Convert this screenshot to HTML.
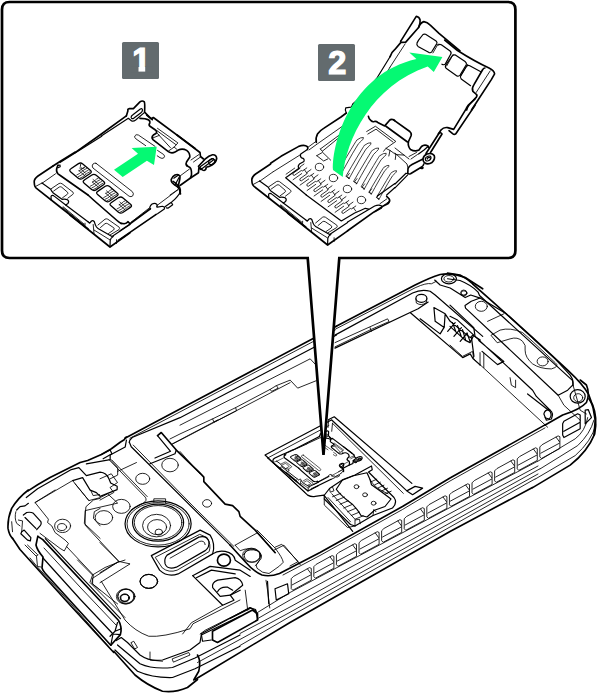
<!DOCTYPE html>
<html><head><meta charset="utf-8"><title>SIM</title>
<style>
html,body{margin:0;padding:0;background:#fff;}
body{width:600px;height:695px;overflow:hidden;font-family:"DejaVu Sans","Liberation Sans",sans-serif;}
svg{display:block}
svg path, svg line, svg polyline, svg ellipse, svg circle, svg rect.l{stroke:#000;stroke-linecap:round;stroke-linejoin:round}
</style></head><body>
<svg width="600" height="695" viewBox="0 0 600 695">
<rect x="0" y="0" width="600" height="695" fill="#fff" stroke="none"/>
<!-- phone -->
<g>
<g transform="translate(0 490) scale(0.166906)">
<path d="M170 0 Q110 45 70 110 Q45 170 48 230 Q55 270 75 290" stroke-width="9.89" fill="none" />
<path d="M330 0 L210 75 L290 175 L285 195 L310 215 L330 255 L390 300 L410 320 L385 365 L360 350 L240 260" stroke-width="5.09" fill="none" />
<path d="M130 250 L145 240 L185 285 L182 305 L165 300 L125 262 Z" stroke-width="7.19" fill="none" />
<path d="M140 150 L160 135 Q185 130 200 140 L245 190 Q250 205 240 215 L220 238 M150 165 L215 230 M100 120 L120 100 L150 95 L170 80" stroke-width="7.19" fill="none" />
<path d="M95 130 Q85 170 100 200 L120 215 M70 190 L75 250 M110 180 L135 185 L130 250" stroke-width="5.09" fill="none" />
<path d="M600 50 L560 60 L515 100 L505 200 L600 290 M600 110 L565 130 L560 170 L600 215" stroke-width="5.09" fill="none" />
<path d="M400 340 L560 510 L550 560 L600 600" stroke-width="5.09" fill="none" />
<ellipse cx="375" cy="215" rx="48" ry="40" fill="none" stroke="#000" stroke-width="5.09" transform="rotate(0 375 215)"/>
<ellipse cx="372" cy="222" rx="27" ry="21" fill="none" stroke="#000" stroke-width="5.09" transform="rotate(0 372 222)"/>
</g>
<g transform="translate(0 430) scale(0.250360)">
<path d="M504 28 L496 39 L480 49 L445 75 L405 98 L350 122 L320 130 L280 150 L200 190 Q150 218 112 243" stroke-width="6.59" fill="none" />
<path d="M405 98 L440 80 L447 95 L412 115" stroke-width="4.79" fill="none" />
<path d="M105 270 L150 235 L285 158 L315 150 L345 182 L400 168 Q425 170 435 195 L442 212 L468 225 L468 238 L400 265 L385 250 L360 240 L345 215 L330 190 L290 202" stroke-width="4.79" fill="none" />
<path d="M140 290 L290 202 L355 282 L400 270 L430 255 L470 292 L340 322 L340 380 L475 525 L370 592 L370 615 L470 695" stroke-width="3.40" fill="none" />
<path d="M355 282 L300 215 M362 240 L372 262 L398 258" stroke-width="3.40" fill="none" />
<path d="M505 40 L500 68 L440 100 L440 118 L345 135" stroke-width="4.79" fill="none" />
<path d="M436 119 L580 268 Q590 282 572 292 L524 319 M446 119 L588 266" stroke-width="3.40" fill="none" />
<path d="M440 118 L470 150 L470 180 L440 195 M470 165 L545 130" stroke-width="3.40" fill="none" />
<ellipse cx="415" cy="350" rx="35" ry="28" fill="none" stroke="#000" stroke-width="3.40" transform="rotate(0 415 350)"/>
<ellipse cx="485" cy="305" rx="35" ry="28" fill="none" stroke="#000" stroke-width="3.40" transform="rotate(0 485 305)"/>
<ellipse cx="570" cy="195" rx="28" ry="22" fill="none" stroke="#000" stroke-width="3.40" transform="rotate(0 570 195)"/>
<ellipse cx="500" cy="665" rx="35" ry="30" fill="none" stroke="#000" stroke-width="3.40" transform="rotate(0 500 665)"/>
<ellipse cx="497" cy="670" rx="17" ry="14" fill="none" stroke="#000" stroke-width="3.40" transform="rotate(0 497 670)"/>
<ellipse cx="595" cy="605" rx="35" ry="28" fill="none" stroke="#000" stroke-width="3.40" transform="rotate(0 595 605)"/>
</g>
<g transform="translate(100 460) scale(0.250360)">
<ellipse cx="232" cy="255" rx="132" ry="92" fill="none" stroke="#000" stroke-width="4.79" transform="rotate(0 232 255)"/>
<ellipse cx="232" cy="255" rx="124" ry="85" fill="none" stroke="#000" stroke-width="3.40" transform="rotate(0 232 255)"/>
<ellipse cx="232" cy="250" rx="102" ry="74" fill="none" stroke="#000" stroke-width="4.79" transform="rotate(0 232 250)"/>
<ellipse cx="232" cy="250" rx="95" ry="68" fill="none" stroke="#000" stroke-width="3.40" transform="rotate(0 232 250)"/>
<ellipse cx="226" cy="262" rx="56" ry="45" fill="none" stroke="#000" stroke-width="3.40" transform="rotate(0 226 262)"/>
<ellipse cx="228" cy="268" rx="38" ry="30" fill="none" stroke="#000" stroke-width="3.40" transform="rotate(0 228 268)"/>
<ellipse cx="235" cy="288" rx="15" ry="12" fill="none" stroke="#000" stroke-width="3.40" transform="rotate(0 235 288)"/>
<path d="M215 168 L215 155 L262 155 L262 172" stroke-width="3.40" fill="none" />
<path d="M205 382 L400 280 L440 300 Q462 335 450 375 L312 455 Q270 470 238 440 Z" stroke-width="4.79" fill="none" />
<path d="M222 388 L398 297 L428 310 Q445 338 436 366 L308 440 Q275 452 250 432 Z" stroke-width="3.40" fill="none" />
<path d="M268 380 L395 308 Q425 300 435 325 Q438 350 420 362 L305 428 Q270 440 260 415 Q255 395 268 380 Z" stroke-width="4.79" fill="none" />
<path d="M280 392 L398 325 Q418 320 420 338" stroke-width="3.40" fill="none" />
<ellipse cx="495" cy="400" rx="26" ry="24" fill="none" stroke="#000" stroke-width="6.59" transform="rotate(0 495 400)"/>
<path d="M0 75 L45 55 L70 90 L40 110 L55 130 L0 160" stroke-width="3.40" fill="none" />
<path d="M450 375 Q470 360 500 365 Q535 372 540 400 L600 440" stroke-width="4.79" fill="none" />
<path d="M0 330 L75 405 L0 450 M75 405 L120 415 L0 490" stroke-width="3.40" fill="none" />
<ellipse cx="195" cy="485" rx="35" ry="28" fill="none" stroke="#000" stroke-width="3.40" transform="rotate(0 195 485)"/>
<ellipse cx="105" cy="545" rx="35" ry="30" fill="none" stroke="#000" stroke-width="3.40" transform="rotate(0 105 545)"/>
<ellipse cx="100" cy="550" rx="18" ry="15" fill="none" stroke="#000" stroke-width="3.40" transform="rotate(0 100 550)"/>
<path d="M370 462 L440 425 L560 440 L600 465 M370 462 L490 580 L535 560 L520 540 L560 520" stroke-width="4.79" fill="none" />
<path d="M385 470 L445 440 L540 455 M450 510 Q445 490 470 480 L540 470 Q565 475 570 500 L520 540 L480 545 Z" stroke-width="4.79" fill="none" />
<path d="M470 525 Q480 505 510 508 L530 520" stroke-width="4.79" fill="none" />
<path d="M580 520 L590 600 M490 580 L365 650 L330 695 M600 590 L420 680 L400 695" stroke-width="3.40" fill="none" />
</g>
<g transform="translate(310 460) scale(0.150000)">
<path d="M95 235 L130 190 L220 130 L300 100 L410 40 L415 65 L390 80 L560 250 Q585 285 550 320 L420 370 L300 440 L270 430 L95 260 Z" stroke-width="8.00" fill="none" />
<path d="M215 135 L290 105 L380 85 L400 130 L410 165 L480 215 L540 260 L500 310 L430 335 L380 380 L340 370 Q300 300 250 270 Q200 230 175 195 Z" stroke-width="8.00" fill="none" />
<ellipse cx="310" cy="178" rx="16" ry="13" fill="none" stroke="#000" stroke-width="5.67" transform="rotate(0 310 178)"/>
<ellipse cx="367" cy="232" rx="16" ry="13" fill="none" stroke="#000" stroke-width="5.67" transform="rotate(0 367 232)"/>
<ellipse cx="424" cy="288" rx="16" ry="13" fill="none" stroke="#000" stroke-width="5.67" transform="rotate(0 424 288)"/>
<path d="M150 245 L205 222 M175 270 L230 247 M200 295 L255 272 M225 320 L280 297 M250 345 L305 322 M275 370 L330 347 M300 395 L355 372 M408 145 L445 128 M432 165 L469 148 M456 185 L493 168 M480 205 L517 188 M504 225 L541 208" stroke-width="5.67" fill="none" />
<path d="M120 250 L270 412 M145 225 L300 395 M400 130 Q430 190 520 225" stroke-width="5.67" fill="none" />
<path d="M95 260 L95 300 L250 450 L300 440 M130 190 L135 215 L160 205 L150 180" stroke-width="5.67" fill="none" />
<path d="M420 370 L425 330 L440 345 M300 440 L300 400 L330 395 L335 425" stroke-width="5.67" fill="none" />
</g>
<g transform="translate(0 0) scale(1.000000)">
<path d="M230 545 L245 561.5 Q254 572 262 575 Q270 577 279.5 573.5 L320 552.5 L402.5 506.5 L450 478 L545 424.9" stroke-width="1.65" fill="none" />
<path d="M283 575 L320 555.5 L402.5 509.5 L450 481 L545 427.9" stroke-width="0.85" fill="none" />
<path d="M291.5 578.4 L293.5 576.4 L309.5 567.6 L311.3 568.4 L311.3 580.2 L292.8 590.2 L291.5 588.9 Z M292.2 584.9 L310.8 574.9 M307.5 568.9 L310.8 573.4 M314.1 566.4 L316.1 564.4 L332.1 555.6 L333.9 556.4 L333.9 568.2 L315.4 578.2 L314.1 576.9 Z M314.8 572.9 L333.4 562.9 M330.1 556.9 L333.4 561.4 M336.7 554.5 L338.7 552.5 L354.7 543.7 L356.5 544.5 L356.5 556.3 L338.0 566.3 L336.7 565.0 Z M337.4 561.0 L356.0 551.0 M352.7 545.0 L356.0 549.5 M359.3 542.5 L361.3 540.5 L377.3 531.7 L379.1 532.5 L379.1 544.3 L360.6 554.3 L359.3 553.0 Z M360.0 549.0 L378.6 539.0 M375.3 533.0 L378.6 537.5 M381.9 530.5 L383.9 528.5 L399.9 519.7 L401.7 520.5 L401.7 532.3 L383.2 542.3 L381.9 541.0 Z M382.6 537.0 L401.2 527.0 M397.9 521.0 L401.2 525.5 M404.5 518.5 L406.5 516.5 L422.5 507.7 L424.3 508.5 L424.3 520.3 L405.8 530.3 L404.5 529.0 Z M405.2 525.0 L423.8 515.0 M420.5 509.0 L423.8 513.5 M427.1 506.6 L429.1 504.6 L445.1 495.8 L446.9 496.6 L446.9 508.4 L428.4 518.4 L427.1 517.1 Z M427.8 513.1 L446.4 503.1 M443.1 497.1 L446.4 501.6 M449.7 494.6 L451.7 492.6 L467.7 483.8 L469.5 484.6 L469.5 496.4 L451.0 506.4 L449.7 505.1 Z M450.4 501.1 L469.0 491.1 M465.7 485.1 L469.0 489.6 M472.3 482.6 L474.3 480.6 L490.3 471.8 L492.1 472.6 L492.1 484.4 L473.6 494.4 L472.3 493.1 Z M473.0 489.1 L491.6 479.1 M488.3 473.1 L491.6 477.6 M494.9 470.6 L496.9 468.6 L512.9 459.8 L514.7 460.6 L514.7 472.4 L496.2 482.4 L494.9 481.1 Z M495.6 477.1 L514.2 467.1 M510.9 461.1 L514.2 465.6 M517.5 458.6 L519.5 456.6 L535.5 447.8 L537.3 448.6 L537.3 460.4 L518.8 470.4 L517.5 469.1 Z M518.2 465.1 L536.8 455.1 M533.5 449.1 L536.8 453.6 M540.1 446.7 L542.1 444.7 L558.1 435.9 L559.9 436.7 L559.9 448.5 L541.4 458.5 L540.1 457.2 Z M540.8 453.2 L559.4 443.2 M556.1 437.2 L559.4 441.7" stroke-width="0.85" fill="none" />
<path d="M257.5 612.5 L290 592.5 L450 507.5 L537.5 461.25" stroke-width="0.85" fill="none" />
<path d="M257 619 L290 600 L450 513.5 L538 466" stroke-width="0.85" fill="none" />
<path d="M240 633.5 L290 607 L450 518.5 L540 468.75" stroke-width="0.85" fill="none" />
<path d="M197.5 662.5 L290 612.3 L450 523 L538 474" stroke-width="0.85" fill="none" />
<path d="M240 645.5 L290 616.5 L450 527 L535 479" stroke-width="0.85" fill="none" />
<path d="M195 679.5 L290 622.5 L450 531.5 L532.5 487.5" stroke-width="1.65" fill="none" />
</g>
<g transform="translate(450 380) scale(0.250360)">
<path d="M380 180 L450 140 Q520 118 545 90 Q560 55 545 20 L520 0" stroke-width="6.59" fill="none" />
<path d="M330 430 L480 340 Q550 285 578 215 Q590 150 570 100 L555 75" stroke-width="6.59" fill="none" />
<path d="M350 325 L500 235 Q540 205 550 150 M360 355 L510 262 Q560 215 575 160 M340 396 L500 302 Q565 245 582 180" stroke-width="3.40" fill="none" />
<path d="M450 175 L455 165 L510 135 L520 140 L520 195 L455 230 L450 220 Z M455 205 L518 170 M540 120 L540 175 L565 150 L552 118 Z" stroke-width="4.79" fill="none" />
</g>
<g transform="translate(450 260) scale(0.250360)">
<path d="M-10 52 L40 60 Q70 75 90 95 L180 175 L330 310 L470 440 Q535 500 555 540 Q575 590 580 640 L575 700" stroke-width="6.59" fill="none" />
<path d="M-10 75 L40 82 Q85 100 112 128 L118 142 L490 482 L492 502" stroke-width="4.79" fill="none" />
<path d="M60 182 L85 165 L120 152 L225 215 L420 395 L480 460 Q495 480 490 500 L470 520 L432 540 L62 192 Z" stroke-width="4.79" fill="none" />
<path d="M150 245 L215 215 M165 300 L200 280 Q240 268 290 290 L335 330 L420 410 Q440 425 405 435 Q360 435 330 415 Q300 390 300 360 Q305 340 290 325 Q270 305 240 315 L190 330 Z" stroke-width="3.40" fill="none" />
<ellipse cx="55" cy="130" rx="12" ry="10" fill="none" stroke="#000" stroke-width="3.40" transform="rotate(0 55 130)"/>
<ellipse cx="125" cy="185" rx="24" ry="20" fill="none" stroke="#000" stroke-width="3.40" transform="rotate(0 125 185)"/>
<ellipse cx="370" cy="405" rx="22" ry="18" fill="none" stroke="#000" stroke-width="3.40" transform="rotate(0 370 405)"/>
<ellipse cx="510" cy="545" rx="30" ry="27" fill="none" stroke="#000" stroke-width="4.79" transform="rotate(0 510 545)"/>
<ellipse cx="512" cy="550" rx="18" ry="16" fill="none" stroke="#000" stroke-width="3.40" transform="rotate(0 512 550)"/>
<path d="M0 180 L95 270 L100 305 L330 520 L345 545 L400 600 M115 322 L215 405 L190 418 L128 365 M310 535 L400 605 Q410 625 395 635 L380 630" stroke-width="4.79" fill="none" />
<path d="M0 340 L50 385 L90 365 L95 395 L390 668 M120 370 L120 420 M135 372 L135 430 M240 470 L245 500 L262 510 L262 480" stroke-width="3.40" fill="none" />
<path d="M0 225 L30 240 L95 300 L80 330 L60 320 L0 265 M10 250 L25 290 M30 262 L45 305 M50 278 L62 318 M68 292 L80 325" stroke-width="4.79" fill="none" />
<path d="M375 615 Q380 595 400 600 Q415 610 405 635 L385 640 Z" stroke-width="4.79" fill="none" />
<path d="M432 540 L455 580 L520 640 M492 502 L520 600 L545 615" stroke-width="3.40" fill="none" />
</g>
<g transform="translate(330 260) scale(0.250360)">
<path d="M25 265 L340 100 Q400 70 440 58 Q490 50 540 70 L610 115" stroke-width="6.59" fill="none" />
<path d="M22 276 L340 111 Q385 90 405 95 L425 85" stroke-width="3.40" fill="none" />
<path d="M20 300 L330 132 Q365 115 400 125 L420 140 L610 305" stroke-width="4.79" fill="none" />
<path d="M20 330 L230 235 L236 246 L165 277 L20 347 M160 270 L165 285" stroke-width="3.40" fill="none" />
<path d="M20 352 L320 210 L530 390 L560 375 L572 395 L600 420 M320 210 L352 195 L392 168" stroke-width="4.79" fill="none" />
<ellipse cx="365" cy="153" rx="22" ry="16" fill="none" stroke="#000" stroke-width="4.79" transform="rotate(0 365 153)"/>
<path d="M343 155 L345 172 Q365 185 385 170 L387 155" stroke-width="3.40" fill="none" />
<path d="M418 80 L440 100 L480 112 L540 150 L562 140 L600 152" stroke-width="4.79" fill="none" />
<ellipse cx="475" cy="75" rx="30" ry="20" fill="none" stroke="#000" stroke-width="4.79" transform="rotate(0 475 75)"/>
<ellipse cx="475" cy="75" rx="20" ry="13" fill="none" stroke="#000" stroke-width="3.40" transform="rotate(0 475 75)"/>
<ellipse cx="535" cy="133" rx="12" ry="10" fill="none" stroke="#000" stroke-width="3.40" transform="rotate(0 535 133)"/>
<path d="M415 190 L460 215 L456 270 L420 245 Z M360 235 L440 295 L455 270 M470 285 L500 250 M495 305 L525 270 M520 325 L548 292 M460 215 L480 245 L560 310 L570 300 L600 320 M565 310 L575 385" stroke-width="4.79" fill="none" />
</g>
<g transform="translate(180 300) scale(0.250360)">
<path d="M-220 552 L0 435 L530 155 L625 105" stroke-width="6.59" fill="none" />
<path d="M-200 552 L0 447 L530 167 L620 120" stroke-width="3.40" fill="none" />
<path d="M-203 569 L-200 559 L-189 548 L0 470 L530 192 L625 140" stroke-width="4.79" fill="none" />
<path d="M0 500 L520 235 L548 265" stroke-width="3.40" fill="none" />
<path d="M-40 555 L0 535 L130 475 L222 430 L360 357 L385 342 L440 320 L470 352 L545 322 M130 475 L136 488 L226 442 L222 430 M385 342 L392 352 L366 365 L360 357" stroke-width="3.40" fill="none" />
<path d="M-30 575 L0 560 L440 330" stroke-width="3.40" fill="none" />
<path d="M0 605 L80 695" stroke-width="3.40" fill="none" />
</g>
<g transform="translate(230 420) scale(0.250360)">
<path d="M140 140 L405 0 M140 140 L310 300 Q325 308 340 305 L375 300 L490 445" stroke-width="4.79" fill="none" />
<path d="M150 152 L395 22 M150 152 L300 290" stroke-width="3.40" fill="none" />
</g>
<g transform="translate(340 400) scale(0.250360)">
<path d="M-23 67 L287 333 M-33 80 L267 363 M267 363 L300 345 L330 352 L290 378 Z M-45 78 L-23 67" stroke-width="4.79" fill="none" />
<path d="M-30 93 L253 373 M-45 78 L-48 110 M-30 93 L-33 125" stroke-width="3.40" fill="none" />
</g>
<g transform="translate(30 560) scale(0.250000)">
<path d="M190 0 L250 60 L240 90 L380 230 M250 60 L300 30 L350 10 L380 0" stroke-width="3.40" fill="none" />
<ellipse cx="385" cy="145" rx="33" ry="28" fill="none" stroke="#000" stroke-width="3.40" transform="rotate(0 385 145)"/>
<ellipse cx="380" cy="152" rx="17" ry="14" fill="none" stroke="#000" stroke-width="3.40" transform="rotate(0 380 152)"/>
<ellipse cx="475" cy="85" rx="35" ry="28" fill="none" stroke="#000" stroke-width="3.40" transform="rotate(0 475 85)"/>
</g>
<g transform="translate(150 540) scale(0.250000)">
<path d="M250 365 L410 280 L430 295 L430 320 L270 410 L250 400 Z" stroke-width="6.60" fill="none" />
<path d="M205 375 L400 270 L425 285 M205 375 L210 405 L245 400" stroke-width="4.80" fill="none" />
<path d="M470 165 L475 255 M500 195 L505 240 L555 215 L550 175 Z" stroke-width="4.80" fill="none" />
</g>
<g transform="translate(90 575) scale(0.250000)">
<path d="M95 305 L180 400 Q230 442 290 465 Q340 472 390 450 L430 418" stroke-width="6.60" fill="none" />
<path d="M110 190 L100 225 L80 245 M100 225 L125 215" stroke-width="4.80" fill="none" />
<path d="M105 262 L125 250 L150 270 L200 320 Q240 348 290 340 L400 300 L440 270 L445 240 L600 165" stroke-width="4.80" fill="none" />
<path d="M110 280 L200 355 Q250 378 330 370 L420 332 L600 240" stroke-width="4.80" fill="none" />
<path d="M100 300 L190 385 Q250 412 330 410 L420 375 L600 285" stroke-width="4.80" fill="none" />
<path d="M430 320 Q445 345 435 385 L415 420" stroke-width="6.60" fill="none" />
<path d="M45 25 L140 180 Q180 225 235 245 Q290 250 400 215 L412 195 L600 100 M240 308 L240 340 L290 345 M330 335 L395 310 L400 320 L335 348 Z" stroke-width="3.40" fill="none" />
<path d="M165 270 L175 265 L190 290 L180 295 Z" stroke-width="3.40" fill="none" />
</g>
<g transform="translate(150 420) scale(0.250360)">
<path d="M30 62 L45 50 L105 120 L200 212 L215 228 L215 246 L300 336 L330 342 L355 366 L360 385 L420 440 L500 530" stroke-width="6.59" fill="none" />
<path d="M-82 90 L-75 107 L320 500" stroke-width="4.79" fill="none" />
<path d="M-67 100 L168 340 L335 505" stroke-width="3.40" fill="none" />
<path d="M0 175 L100 135 L105 120 M30 62 L82 125 L20 152" stroke-width="4.79" fill="none" />
<ellipse cx="80" cy="180" rx="33" ry="27" fill="none" stroke="#000" stroke-width="3.40" transform="rotate(0 80 180)"/>
<ellipse cx="228" cy="333" rx="18" ry="15" fill="none" stroke="#000" stroke-width="3.40" transform="rotate(0 228 333)"/>
<ellipse cx="405" cy="540" rx="35" ry="28" fill="none" stroke="#000" stroke-width="3.40" transform="rotate(0 405 540)"/>
<path d="M340 500 L430 450 L500 530 M340 500 L360 522 Q400 505 435 525 Q450 560 420 582" stroke-width="3.40" fill="none" />
<path d="M495 520 L535 500 L600 578" stroke-width="3.40" fill="none" />
<path d="M90 95 L270 0" stroke-width="3.40" fill="none" />
</g>
<g transform="translate(230 530) scale(0.150000)">
<path d="M180 0 L300 120 Q350 185 355 215 L330 240 L260 290 Q215 290 180 255 Q165 235 190 210 Q225 185 200 150 Q160 120 110 140 L90 165" stroke-width="5.67" fill="none" />
<ellipse cx="150" cy="170" rx="55" ry="45" fill="none" stroke="#000" stroke-width="5.67" transform="rotate(0 150 170)"/>
<path d="M300 115 L345 95 L455 210 L400 240" stroke-width="5.67" fill="none" />
<path d="M240 335 L250 400 L265 520" stroke-width="5.67" fill="none" />
<path d="M0 590 L140 520 L170 530 L185 600" stroke-width="8.00" fill="none" />
</g>
<g transform="translate(0 0) scale(1.000000)">
<path d="M12.5 538.3 L20 549.5 L70 605 L113.75 652.5" stroke-width="1.65" fill="none" />
<path d="M30 558 L37 566.5 L72 605 L109 647" stroke-width="0.85" fill="none" />
<path d="M37.8 536.4 L42.8 539.6 L118.4 620.2 Q122.5 627 120.4 634.6 L110.8 645.2" stroke-width="1.65" fill="none" />
<path d="M45.3 538.6 L120.4 618.6" stroke-width="1.20" fill="none" />
<path d="M37.8 536.4 L36 545 Q37 550 43 557 L42 568 Q43 571 45 573 L74 605 L110.8 645.2" stroke-width="1.65" fill="none" />
<path d="M43 558 L80 599 L113 634 L120.4 634.6 M113 634 L110.8 645.2" stroke-width="1.20" fill="none" />
<path d="M44 548 L80 587 L116 625" stroke-width="0.85" fill="none" />
<path d="M25 545 L36 556 L38 555 M27.5 545 L37.5 554.5 M36.5 556.5 L37.5 566.5 L41 567" stroke-width="0.85" fill="none" />
</g>
</g>
<!-- mini -->
<g transform="matrix(0.48526,0.04239,-0.02627,0.42108,261.11,382.33)">
<g transform="translate(28 165) scale(0.100000)">
<path d="M250 10 L100 110 Q60 140 62 170 L65 200 Q68 220 82 232 L340 435 L600 638" stroke-width="26.40" fill="none" />
<path d="M75 215 L140 180 M140 183 L275 88" stroke-width="13.60" fill="none" />
<path d="M140 180 L227 243 Q235 262 253 280 L340 343 Q375 338 395 348 Q415 362 400 385 L377 400" stroke-width="19.20" fill="none" />
<path d="M232 350 L230 315 Q232 302 245 303 Q255 305 262 311 L377 400 L600 567" stroke-width="19.20" fill="none" />
<path d="M347 425 L558 600 M352 418 L562 592 M570 582 L570 612" stroke-width="13.60" fill="none" />
<path d="M300 0 L287 35 Q280 70 300 88 L330 110 L600 300" stroke-width="26.40" fill="none" />
<path d="M233 237 L310 185 Q325 178 340 187 L450 272 Q460 283 448 294 L398 332" stroke-width="13.60" fill="none" />
<path d="M257 260 L313 220 Q325 214 337 222 L395 272 Q405 283 393 293 L345 328" stroke-width="13.60" fill="none" />
</g>
<g transform="translate(50 155) scale(0.116667)">
<path d="M178 145 Q160 130 179 118 L244 74 Q263 62 281 77 L345 131 Q363 146 344 158 L279 202 Q260 214 242 199 Z" stroke-width="17.83" fill="#fff"/>
<path d="M293 242 Q275 227 294 215 L359 171 Q378 159 396 174 L460 228 Q478 243 459 255 L394 299 Q375 311 357 296 Z" stroke-width="17.83" fill="#fff"/>
<path d="M408 339 Q390 324 409 312 L474 268 Q493 256 511 271 L575 325 Q593 340 574 352 L509 396 Q490 408 472 393 Z" stroke-width="17.83" fill="#fff"/>
<path d="M523 436 Q505 421 524 409 L589 365 Q608 353 626 368 L690 422 Q708 437 689 449 L624 493 Q605 505 587 490 Z" stroke-width="17.83" fill="#fff"/>
<path d="M248 135 Q263 131 273 119 T297 103 M230 171 Q254 161 272 143 T313 116 M244 185 Q268 176 286 158 T327 131 M259 198 Q283 188 300 171 T342 144 M248 135 L296 175 M254 113 L304 155" stroke-width="10.29" fill="none" />
<path d="M363 232 Q378 228 388 216 T412 200 M345 268 Q369 258 387 240 T428 213 M359 282 Q383 273 400 255 T442 228 M374 295 Q398 285 416 268 T457 241 M363 232 L411 272 M369 210 L419 252" stroke-width="10.29" fill="none" />
<path d="M478 329 Q493 325 503 313 T527 297 M460 365 Q484 355 502 337 T543 310 M474 379 Q498 370 516 352 T557 325 M489 392 Q513 382 530 365 T572 338 M478 329 L526 369 M484 307 L534 349" stroke-width="10.29" fill="none" />
<path d="M593 426 Q608 422 618 410 T642 394 M575 462 Q599 452 617 434 T658 407 M589 476 Q613 467 630 449 T672 422 M604 489 Q628 479 646 462 T687 435 M593 426 L641 466 M599 404 L649 446" stroke-width="10.29" fill="none" />
<path d="M262 80 q-8 20 8 35 q10 8 25 -5" stroke-width="11.66" fill="none" />
</g>
<g transform="translate(75 95) scale(0.133333)">
<path d="M0 432 L190 298 L385 157" stroke-width="19.80" fill="none" />
<path d="M200 306 L400 175 L425 195 Q440 200 455 188 L522 130" stroke-width="14.40" fill="none" />
<path d="M385 157 L397 118 Q392 105 408 102 L438 102 L487 52 Q505 38 520 52 Q525 60 522 128 L560 168 L580 185" stroke-width="19.80" fill="none" />
<path d="M432 150 L490 105 Q505 98 506 113 Q506 125 495 133 L440 175 Q424 182 421 168 Q420 158 432 150 Z" stroke-width="14.40" fill="none" />
<path d="M600 385 L475 300 Q455 292 448 308 Q445 320 458 330 L530 380" stroke-width="10.20" fill="none" />
</g>
<g transform="translate(145 115) scale(0.083333)">
<path d="M20 0 L75 45 L100 30 L600 400" stroke-width="31.68" fill="none" />
<path d="M-60 40 L0 45 L35 55 Q62 65 58 95 Q40 118 60 135 L125 180 Q150 205 130 222 L100 240 Q72 265 95 295 L280 440 Q320 468 360 445 L400 420 Q450 395 500 425 Q540 455 538 505 L500 560 Q485 585 500 610" stroke-width="31.68" fill="none" />
<path d="M150 160 L395 335 L350 385 L282 432 M140 185 L370 355 M95 275 L170 245 L305 392 M140 190 L140 215 L175 245 M350 385 L380 410" stroke-width="16.32" fill="none" />
<path d="M150 425 L225 475 Q245 495 225 515 Q205 528 180 512 L147 490" stroke-width="16.32" fill="none" />
</g>
<g transform="translate(70 200) scale(0.100000)">
<path d="M0 150 L400 470 L600 328" stroke-width="26.40" fill="none" />
<path d="M400 470 L402 405 Q405 380 432 365" stroke-width="19.20" fill="none" />
<path d="M180 217 L197 232 L215 210 Q228 200 242 215 L255 252 Q262 275 280 285 L420 365 L600 245" stroke-width="19.20" fill="none" />
<path d="M232 245 L240 335 M240 300 L398 398 M465 397 L465 435" stroke-width="13.60" fill="none" />
<path d="M280 250 L350 192 Q362 184 378 192 L492 272 Q502 284 490 296 L400 350" stroke-width="13.60" fill="none" />
<path d="M305 275 L350 237 Q362 229 376 237 L438 278 Q448 290 436 300 L385 335" stroke-width="13.60" fill="none" />
<path d="M180 -50 L235 0 L470 205 Q490 225 512 234" stroke-width="26.40" fill="none" />
</g>
<g transform="translate(120 190) scale(0.083333)">
<path d="M14 401 L50 405 Q80 400 95 380 L120 405 L365 225" stroke-width="31.68" fill="none" />
<path d="M135 385 L355 213" stroke-width="16.32" fill="none" />
<path d="M365 225 Q345 205 385 168 Q420 150 445 175 Q450 190 440 203 L450 205 L510 195 Q540 200 532 228 L450 285 L430 295" stroke-width="23.04" fill="none" />
<path d="M0 490 L120 408" stroke-width="23.04" fill="none" />
<path d="M-20 604 L430 295" stroke-width="31.68" fill="none" />
<path d="M540 200 L625 140 Q700 76 725 20 M555 215 L575 218 L600 200 L632 178 L622 160" stroke-width="23.04" fill="none" />
</g>
<g transform="translate(120 180) scale(0.116667)">
<path d="M512 118 Q525 80 505 55 Q485 30 455 12" stroke-width="22.63" fill="none" />
<path d="M315 220 L495 85" stroke-width="11.66" fill="none" />
</g>
<g transform="translate(165 135) scale(0.100000)">
<path d="M120 0 L350 175 L355 215 L385 240" stroke-width="26.40" fill="none" />
<path d="M217 300 Q225 315 250 325 Q268 345 265 400 L255 430" stroke-width="26.40" fill="none" />
<path d="M260 250 L340 195 M285 270 L355 220" stroke-width="13.60" fill="none" />
<path d="M335 312 L400 242 Q440 205 475 198 Q515 195 517 235 Q510 275 470 300 Q440 318 412 322 Q412 350 390 355 Q375 355 370 345 Q345 345 335 312 Z" stroke-width="26.40" fill="none" />
<path d="M352 318 L468 236 Q485 232 490 246 L372 335 Q355 340 352 318 Z" stroke-width="19.20" fill="none" />
<path d="M437 280 A33 24 -35 1 1 498 255 A33 24 -35 1 1 437 280" stroke-width="19.20" fill="none" />
<path d="M255 430 L335 378 L338 335 M255 430 L150 505" stroke-width="26.40" fill="none" />
<path d="M62 445 Q70 415 100 400 Q135 385 150 415 Q150 450 128 520 Q90 500 70 475 Q60 460 62 445 Z" stroke-width="26.40" fill="none" />
<path d="M88 432 L135 400 M100 500 L140 425" stroke-width="19.20" fill="none" />
<path d="M128 520 Q155 550 155 590" stroke-width="26.40" fill="none" />
<path d="M150 410 L245 340 M50 600 L130 545" stroke-width="13.60" fill="none" />
</g>
<g transform="translate(45 125) scale(0.100000)">
<path d="M80 410 L150 365 L300 272" stroke-width="26.40" fill="none" />
<path d="M150 375 L567 112" stroke-width="19.20" fill="none" />
<path d="M125 408 L150 400 L152 418 L130 428" stroke-width="19.20" fill="none" />
</g>
<g transform="translate(85 140) scale(0.116667)">
<path d="M95 200 L405 442 Q422 460 410 478 Q395 492 378 482 L68 240 Q55 222 68 206 Q80 195 95 200 Z" stroke-width="11.66" fill="none" />
</g>
</g>
<!-- callout -->
<g>
</g>

<path d="M9.5 2 H508 Q515.4 2 515.4 9.5 V250.5 Q515.4 258 508 258 H339.3 L323.5 455 L307.7 258 H9.5 Q2 258 2 250.5 V9.5 Q2 2 9.5 2 Z" fill="#fff" stroke="#000" stroke-width="2.7" style="stroke-linejoin:miter"/>

<!-- tray1 -->
<g>
<g transform="translate(28 165) scale(0.100000)">
<path d="M250 10 L100 110 Q60 140 62 170 L65 200 Q68 220 82 232 L340 435 L600 638" stroke-width="16.50" fill="none" />
<path d="M75 215 L140 180 M140 183 L275 88" stroke-width="8.50" fill="none" />
<path d="M140 180 L227 243 Q235 262 253 280 L340 343 Q375 338 395 348 Q415 362 400 385 L377 400" stroke-width="12.00" fill="none" />
<path d="M232 350 L230 315 Q232 302 245 303 Q255 305 262 311 L377 400 L600 567" stroke-width="12.00" fill="none" />
<path d="M347 425 L558 600 M352 418 L562 592 M570 582 L570 612" stroke-width="8.50" fill="none" />
<path d="M300 0 L287 35 Q280 70 300 88 L330 110 L600 300" stroke-width="16.50" fill="none" />
<path d="M233 237 L310 185 Q325 178 340 187 L450 272 Q460 283 448 294 L398 332" stroke-width="8.50" fill="none" />
<path d="M257 260 L313 220 Q325 214 337 222 L395 272 Q405 283 393 293 L345 328" stroke-width="8.50" fill="none" />
</g>
<g transform="translate(50 155) scale(0.116667)">
<path d="M178 145 Q160 130 179 118 L244 74 Q263 62 281 77 L345 131 Q363 146 344 158 L279 202 Q260 214 242 199 Z" stroke-width="11.14" fill="#fff"/>
<path d="M293 242 Q275 227 294 215 L359 171 Q378 159 396 174 L460 228 Q478 243 459 255 L394 299 Q375 311 357 296 Z" stroke-width="11.14" fill="#fff"/>
<path d="M408 339 Q390 324 409 312 L474 268 Q493 256 511 271 L575 325 Q593 340 574 352 L509 396 Q490 408 472 393 Z" stroke-width="11.14" fill="#fff"/>
<path d="M523 436 Q505 421 524 409 L589 365 Q608 353 626 368 L690 422 Q708 437 689 449 L624 493 Q605 505 587 490 Z" stroke-width="11.14" fill="#fff"/>
<path d="M248 135 Q263 131 273 119 T297 103 M230 171 Q254 161 272 143 T313 116 M244 185 Q268 176 286 158 T327 131 M259 198 Q283 188 300 171 T342 144 M248 135 L296 175 M254 113 L304 155" stroke-width="6.43" fill="none" />
<path d="M363 232 Q378 228 388 216 T412 200 M345 268 Q369 258 387 240 T428 213 M359 282 Q383 273 400 255 T442 228 M374 295 Q398 285 416 268 T457 241 M363 232 L411 272 M369 210 L419 252" stroke-width="6.43" fill="none" />
<path d="M478 329 Q493 325 503 313 T527 297 M460 365 Q484 355 502 337 T543 310 M474 379 Q498 370 516 352 T557 325 M489 392 Q513 382 530 365 T572 338 M478 329 L526 369 M484 307 L534 349" stroke-width="6.43" fill="none" />
<path d="M593 426 Q608 422 618 410 T642 394 M575 462 Q599 452 617 434 T658 407 M589 476 Q613 467 630 449 T672 422 M604 489 Q628 479 646 462 T687 435 M593 426 L641 466 M599 404 L649 446" stroke-width="6.43" fill="none" />
<path d="M262 80 q-8 20 8 35 q10 8 25 -5" stroke-width="7.29" fill="none" />
</g>
<g transform="translate(75 95) scale(0.133333)">
<path d="M0 432 L190 298 L385 157" stroke-width="12.38" fill="none" />
<path d="M200 306 L400 175 L425 195 Q440 200 455 188 L522 130" stroke-width="9.00" fill="none" />
<path d="M385 157 L397 118 Q392 105 408 102 L438 102 L487 52 Q505 38 520 52 Q525 60 522 128 L560 168 L580 185" stroke-width="12.38" fill="none" />
<path d="M432 150 L490 105 Q505 98 506 113 Q506 125 495 133 L440 175 Q424 182 421 168 Q420 158 432 150 Z" stroke-width="9.00" fill="none" />
<path d="M600 385 L475 300 Q455 292 448 308 Q445 320 458 330 L530 380" stroke-width="6.38" fill="none" />
</g>
<g transform="translate(145 115) scale(0.083333)">
<path d="M20 0 L75 45 L100 30 L600 400" stroke-width="19.80" fill="none" />
<path d="M-60 40 L0 45 L35 55 Q62 65 58 95 Q40 118 60 135 L125 180 Q150 205 130 222 L100 240 Q72 265 95 295 L280 440 Q320 468 360 445 L400 420 Q450 395 500 425 Q540 455 538 505 L500 560 Q485 585 500 610" stroke-width="19.80" fill="none" />
<path d="M150 160 L395 335 L350 385 L282 432 M140 185 L370 355 M95 275 L170 245 L305 392 M140 190 L140 215 L175 245 M350 385 L380 410" stroke-width="10.20" fill="none" />
<path d="M150 425 L225 475 Q245 495 225 515 Q205 528 180 512 L147 490" stroke-width="10.20" fill="none" />
</g>
<g transform="translate(70 200) scale(0.100000)">
<path d="M0 150 L400 470 L600 328" stroke-width="16.50" fill="none" />
<path d="M400 470 L402 405 Q405 380 432 365" stroke-width="12.00" fill="none" />
<path d="M180 217 L197 232 L215 210 Q228 200 242 215 L255 252 Q262 275 280 285 L420 365 L600 245" stroke-width="12.00" fill="none" />
<path d="M232 245 L240 335 M240 300 L398 398 M465 397 L465 435" stroke-width="8.50" fill="none" />
<path d="M280 250 L350 192 Q362 184 378 192 L492 272 Q502 284 490 296 L400 350" stroke-width="8.50" fill="none" />
<path d="M305 275 L350 237 Q362 229 376 237 L438 278 Q448 290 436 300 L385 335" stroke-width="8.50" fill="none" />
<path d="M180 -50 L235 0 L470 205 Q490 225 512 234" stroke-width="16.50" fill="none" />
</g>
<g transform="translate(120 190) scale(0.083333)">
<path d="M14 401 L50 405 Q80 400 95 380 L120 405 L365 225" stroke-width="19.80" fill="none" />
<path d="M135 385 L355 213" stroke-width="10.20" fill="none" />
<path d="M365 225 Q345 205 385 168 Q420 150 445 175 Q450 190 440 203 L450 205 L510 195 Q540 200 532 228 L450 285 L430 295" stroke-width="14.40" fill="none" />
<path d="M0 490 L120 408" stroke-width="14.40" fill="none" />
<path d="M-20 604 L430 295" stroke-width="19.80" fill="none" />
<path d="M540 200 L625 140 Q700 76 725 20 M555 215 L575 218 L600 200 L632 178 L622 160" stroke-width="14.40" fill="none" />
</g>
<g transform="translate(120 180) scale(0.116667)">
<path d="M512 118 Q525 80 505 55 Q485 30 455 12" stroke-width="14.14" fill="none" />
<path d="M315 220 L495 85" stroke-width="7.29" fill="none" />
</g>
<g transform="translate(165 135) scale(0.100000)">
<path d="M120 0 L350 175 L355 215 L385 240" stroke-width="16.50" fill="none" />
<path d="M217 300 Q225 315 250 325 Q268 345 265 400 L255 430" stroke-width="16.50" fill="none" />
<path d="M260 250 L340 195 M285 270 L355 220" stroke-width="8.50" fill="none" />
<path d="M335 312 L400 242 Q440 205 475 198 Q515 195 517 235 Q510 275 470 300 Q440 318 412 322 Q412 350 390 355 Q375 355 370 345 Q345 345 335 312 Z" stroke-width="16.50" fill="none" />
<path d="M352 318 L468 236 Q485 232 490 246 L372 335 Q355 340 352 318 Z" stroke-width="12.00" fill="none" />
<path d="M437 280 A33 24 -35 1 1 498 255 A33 24 -35 1 1 437 280" stroke-width="12.00" fill="none" />
<path d="M255 430 L335 378 L338 335 M255 430 L150 505" stroke-width="16.50" fill="none" />
<path d="M62 445 Q70 415 100 400 Q135 385 150 415 Q150 450 128 520 Q90 500 70 475 Q60 460 62 445 Z" stroke-width="16.50" fill="none" />
<path d="M88 432 L135 400 M100 500 L140 425" stroke-width="12.00" fill="none" />
<path d="M128 520 Q155 550 155 590" stroke-width="16.50" fill="none" />
<path d="M150 410 L245 340 M50 600 L130 545" stroke-width="8.50" fill="none" />
</g>
<g transform="translate(45 125) scale(0.100000)">
<path d="M80 410 L150 365 L300 272" stroke-width="16.50" fill="none" />
<path d="M150 375 L567 112" stroke-width="12.00" fill="none" />
<path d="M125 408 L150 400 L152 418 L130 428" stroke-width="12.00" fill="none" />
</g>
<g transform="translate(85 140) scale(0.116667)">
<path d="M95 200 L405 442 Q422 460 410 478 Q395 492 378 482 L68 240 Q55 222 68 206 Q80 195 95 200 Z" stroke-width="7.29" fill="none" />
</g>
</g>
<!-- tray2 -->
<g>
<g transform="translate(245.6 163) scale(0.100000)">
<path d="M250 10 L100 110 Q60 140 62 170 L65 200 Q68 220 82 232 L340 435 L600 638" stroke-width="16.50" fill="none" />
<path d="M75 215 L140 180 M140 183 L275 88" stroke-width="8.50" fill="none" />
<path d="M140 180 L227 243 Q235 262 253 280 L340 343 Q375 338 395 348 Q415 362 400 385 L377 400" stroke-width="12.00" fill="none" />
<path d="M232 350 L230 315 Q232 302 245 303 Q255 305 262 311 L377 400 L600 567" stroke-width="12.00" fill="none" />
<path d="M347 425 L558 600 M352 418 L562 592 M570 582 L570 612" stroke-width="8.50" fill="none" />
<path d="M233 237 L310 185 Q325 178 340 187 L450 272 Q460 283 448 294 L398 332" stroke-width="8.50" fill="none" />
<path d="M257 260 L313 220 Q325 214 337 222 L395 272 Q405 283 393 293 L345 328" stroke-width="8.50" fill="none" />
</g>
<g transform="translate(287.6 198) scale(0.100000)">
<path d="M0 150 L400 470 L600 328" stroke-width="16.50" fill="none" />
<path d="M400 470 L402 405 Q405 380 432 365" stroke-width="12.00" fill="none" />
<path d="M180 217 L197 232 L215 210 Q228 200 242 215 L255 252 Q262 275 280 285 L420 365 L600 245" stroke-width="12.00" fill="none" />
<path d="M232 245 L240 335 M240 300 L398 398 M465 397 L465 435" stroke-width="8.50" fill="none" />
<path d="M280 250 L350 192 Q362 184 378 192 L492 272 Q502 284 490 296 L400 350" stroke-width="8.50" fill="none" />
<path d="M305 275 L350 237 Q362 229 376 237 L438 278 Q448 290 436 300 L385 335" stroke-width="8.50" fill="none" />
</g>
<g transform="translate(390 10) scale(0.116667)">
<path d="M225 55 L95 262 Q85 275 100 278 L135 275 L245 150 Q262 110 258 85 Q250 58 225 55 Z" stroke-width="14.14" fill="none" />
<path d="M90 282 L40 340 Q10 365 0 400" stroke-width="14.14" fill="none" />
<path d="M130 290 L0 490" stroke-width="7.29" fill="none" />
<path d="M245 150 Q262 108 290 100 Q320 105 345 130 L420 200 L600 350" stroke-width="14.14" fill="none" />
<path d="M245 258 L283 210 Q292 203 305 208 L395 265 Q408 275 400 290 L358 358 Q350 370 335 365 L240 312 Q225 300 232 282 Z" stroke-width="10.29" fill="none" />
<path d="M412 292 L368 368" stroke-width="7.29" fill="none" />
<path d="M412 300 Q425 290 440 298 L515 352 Q530 365 520 380 L475 462 Q465 475 445 465" stroke-width="10.29" fill="none" />
</g>
<g transform="translate(440 40) scale(0.116667)">
<path d="M40 0 L150 90 Q300 185 420 240 Q465 262 468 290 L440 340 L270 600" stroke-width="14.14" fill="none" />
<path d="M105 135 Q118 122 135 130 L215 185 Q232 198 225 212 L172 300 Q162 315 145 308 L55 245 Q40 232 50 215 Z" stroke-width="10.29" fill="none" />
<path d="M178 305 L228 225 Q240 212 255 220 L350 272 M178 305 Q170 322 182 335 L262 392" stroke-width="10.29" fill="none" />
<path d="M385 240 Q375 240 365 255 L290 385 Q270 415 282 440 L310 465 Q322 475 312 490 L250 555 Q232 580 228 600" stroke-width="14.14" fill="none" />
<path d="M430 265 L310 450" stroke-width="7.29" fill="none" />
<path d="M112 125 L58 222 M236 208 L176 312" stroke-width="7.29" fill="none" />
</g>
<g transform="translate(395 95) scale(0.133333)">
<path d="M600 30 L548 78 Q535 95 530 110 L440 258 L395 245 Q365 240 345 262 L325 292" stroke-width="12.38" fill="none" />
<path d="M600 78 L455 292 Q445 300 432 290 L405 268" stroke-width="12.38" fill="none" />
</g>
<g transform="translate(395 130) scale(0.100000)">
<path d="M-15 -102 L148 15 Q170 35 160 60 L135 115 Q125 160 155 195 Q200 220 240 200 L265 165 Q295 140 330 160 L335 175" stroke-width="16.50" fill="none" />
<path d="M310 235 L440 32 Q455 20 470 40 L355 225" stroke-width="16.50" fill="none" />
<path d="M280 290 Q285 255 320 240 Q370 225 392 255 Q405 290 370 325 Q330 350 295 328 Q278 312 280 290 Z" stroke-width="16.50" fill="none" />
<path d="M303 295 A30 20 -35 1 1 360 275 A30 20 -35 1 1 303 295 M322 292 A14 9 -35 1 1 348 280" stroke-width="12.00" fill="none" />
<path d="M130 385 Q140 360 170 345 L275 292 M130 385 L128 430 Q135 445 155 438 L262 372 Q285 360 288 340 M255 378 Q265 392 280 378" stroke-width="16.50" fill="none" />
<path d="M235 240 L290 200 L330 165" stroke-width="12.00" fill="none" />
<path d="M0 180 L140 290 M140 265 L215 225 M160 290 L225 245 M0 230 L120 340 L130 380" stroke-width="8.50" fill="none" />
<path d="M0 540 L110 432 L128 438 M0 578 L125 452" stroke-width="12.00" fill="none" />
</g>
<g transform="translate(265 115) scale(0.133333)">
<path d="M42 362 L120 310 L250 237 Q295 218 318 238 Q325 250 318 258" stroke-width="12.38" fill="none" />
<path d="M385 205 Q378 170 395 140 Q410 118 440 100 L570 15 L610 -15" stroke-width="12.38" fill="none" />
<path d="M325 240 L380 200 M330 262 L395 215 L580 85" stroke-width="6.38" fill="none" />
<path d="M318 258 L268 292 Q260 310 275 322 Q300 328 292 348 L258 368 Q242 385 255 400" stroke-width="9.00" fill="none" />
<path d="M61 426 L262 300" stroke-width="6.38" fill="none" />
<path d="M255 400 L155 470 L310 600" stroke-width="9.00" fill="none" />
<path d="M415 255 L555 152 M430 272 L560 165 M415 255 L430 272" stroke-width="6.38" fill="none" />
<path d="M388 305 L432 280 L492 338 M388 305 L440 345 L470 330" stroke-width="6.38" fill="none" />
</g>
<g transform="translate(355 100) scale(0.116667)">
<path d="M115 140 Q118 160 135 175 Q150 190 165 185 Q180 178 195 192 L255 222 L295 175 Q310 160 332 170 L340 176" stroke-width="14.14" fill="none" />
<path d="M265 225 L450 360" stroke-width="14.14" fill="none" />
<path d="M100 270 L175 225 L350 355 L265 415 L245 440 M110 292 L180 250 L325 360" stroke-width="7.29" fill="none" />
<path d="M265 415 L300 432 L350 468 L420 472 M300 432 L290 480 M350 468 L345 510" stroke-width="7.29" fill="none" />
</g>
<g transform="translate(0 0) scale(1.000000)">
<path d="M286.1 174.2 L294.7 168.1 M304.4 169.7 L306.8 173.1 M306.8 167.9 L302.7 170.9 L301.3 170.5 L294.3 175.4 Q292.3 175.3 292.9 173.4 L299.8 168.5 L300.0 166.9 L304.0 164.0 M293.1 179.7 L301.7 173.6 M311.4 175.1 L313.8 178.5 M313.8 173.4 L309.7 176.3 L308.3 175.9 L301.3 180.9 Q299.3 180.8 299.9 178.8 L306.8 173.9 L307.0 172.4 L311.0 169.5 M300.1 185.1 L308.7 179.0 M318.4 180.6 L320.8 184.0 M320.8 178.8 L316.7 181.7 L315.3 181.4 L308.3 186.3 Q306.3 186.2 306.9 184.3 L313.8 179.3 L314.0 177.8 L318.0 174.9 M307.1 190.5 L315.7 184.4 M325.4 186.0 L327.8 189.4 M327.8 184.2 L323.7 187.1 L322.3 186.8 L315.3 191.7 Q313.3 191.6 313.9 189.7 L320.8 184.8 L321.0 183.2 L325.0 180.3 M314.1 196.0 L322.7 189.9 M332.4 191.4 L334.8 194.8 M334.8 189.7 L330.7 192.6 L329.3 192.2 L322.3 197.2 Q320.3 197.1 320.9 195.1 L327.8 190.2 L328.0 188.7 L332.0 185.8 M321.1 201.4 L329.7 195.3 M339.4 196.8 L341.8 200.3 M341.8 195.1 L337.7 198.0 L336.3 197.6 L329.3 202.6 Q327.3 202.5 327.9 200.6 L334.8 195.6 L335.0 194.1 L339.0 191.2 M328.1 206.8 L336.7 200.7 M346.4 202.3 L348.8 205.7 M348.8 200.5 L344.7 203.4 L343.3 203.1 L336.3 208.0 Q334.3 207.9 334.9 206.0 L341.8 201.0 L342.0 199.5 L346.0 196.6 M335.1 212.3 L343.7 206.2 M353.4 207.7 L355.8 211.1 M355.8 206.0 L351.7 208.9 L350.3 208.5 L343.3 213.4 Q341.3 213.4 341.9 211.4 L348.8 206.5 L349.0 205.0 L353.0 202.1" stroke-width="0.80" fill="none" />
<path d="M338.5 170.8 Q343.8 161.4 350.8 149.8 T357.2 139.8 Q360.7 137.1 363.4 137.5 Q363.8 139.0 361.3 141.0 L358.3 143.9 Q352.5 153.2 346.1 164.9 T341.4 173.1 Z M341.4 173.1 l-2.2 -1.6 l2.6 -3.4 M346.1 176.0 Q351.4 166.7 358.4 155.0 T364.8 145.1 Q368.3 142.4 371.0 142.8 Q371.4 144.3 368.9 146.3 L365.9 149.2 Q360.1 158.5 353.7 170.2 T349.0 178.4 Z M349.0 178.4 l-2.2 -1.6 l2.6 -3.4 M353.7 181.2 Q359.0 171.9 366.0 160.2 T372.4 150.3 Q375.9 147.6 378.6 148.0 Q379.0 149.5 376.5 151.5 L373.6 154.4 Q367.7 163.8 361.3 175.4 T356.6 183.6 Z M356.6 183.6 l-2.2 -1.6 l2.6 -3.4 M361.3 186.5 Q366.6 177.2 373.6 165.5 T380.0 155.6 Q383.5 152.9 386.2 153.3 Q386.6 154.8 384.1 156.8 L381.1 159.7 Q375.3 169.0 368.9 180.7 T364.2 188.9 Z M364.2 188.9 l-2.2 -1.6 l2.6 -3.4 M369.0 192.0 Q373.3 184.5 378.9 175.2 T384.0 167.3 Q386.8 165.1 388.9 165.4 Q389.3 166.6 387.3 168.2 L384.9 170.5 Q380.2 178.0 375.1 187.3 T371.3 193.9 Z M371.3 193.9 l-2.2 -1.6 l2.6 -3.4 M376.6 197.2 Q380.9 189.8 386.5 180.4 T391.6 172.5 Q394.4 170.4 396.5 170.7 Q396.9 171.9 394.9 173.5 L392.5 175.8 Q387.8 183.2 382.7 192.6 T378.9 199.2 Z M378.9 199.2 l-2.2 -1.6 l2.6 -3.4" stroke-width="0.75" fill="none" />
<ellipse cx="319.5" cy="167.0" rx="4.2" ry="3.7" fill="#fff" stroke="#000" stroke-width="0.8"/>
<ellipse cx="333.5" cy="178.0" rx="4.2" ry="3.7" fill="#fff" stroke="#000" stroke-width="0.8"/>
<ellipse cx="347.5" cy="189.0" rx="4.2" ry="3.7" fill="#fff" stroke="#000" stroke-width="0.8"/>
<ellipse cx="361.5" cy="200.0" rx="4.2" ry="3.7" fill="#fff" stroke="#000" stroke-width="0.8"/>
</g>
<g transform="translate(330 40) scale(0.116667)">
<path d="M520 135 L400 330 L320 425" stroke-width="10.29" fill="none" />
<path d="M514 233 L490 275" stroke-width="7.29" fill="none" />
<path d="M140 626 Q125 600 135 582 L180 575 Q190 570 195 548 L250 500" stroke-width="10.29" fill="none" />
</g>
<g transform="translate(320 175) scale(0.133333)">
<path d="M207 418 L400 280 L470 235 L512 213 Q530 195 518 178 L500 160" stroke-width="12.38" fill="none" />
<path d="M207 352 L410 232 Q440 220 460 230 Q470 240 460 250 L410 277" stroke-width="9.00" fill="none" />
<path d="M-103 150 L160 345 L260 285 Q300 270 340 250 L365 256" stroke-width="9.00" fill="none" />
<path d="M450 215 L500 180 M480 228 L520 195" stroke-width="6.38" fill="none" />
<path d="M430 158 L562 64 M500 150 L562 94" stroke-width="9.00" fill="none" />
</g>
</g>
<!-- over -->
<g>
</g>

<polygon points="114,169.7 122.7,176.9 146.9,160.7 154,164.9 156.7,146.7 131.6,148 138,153.7" fill="#05f973" stroke="none"/>
<path d="M333 170 C332 142.4 351.2 73.9 416.4 59.1 L409.3 52.4 L442.4 56.9 L433.8 72.1 L427.7 66.4 C371.9 85.6 346 138.7 342.75 177 Z" fill="#05f973" stroke="none" style="stroke:none"/>
<rect x="122" y="42" width="37" height="37" rx="1.5" fill="#636b6e" stroke="none"/>
<rect x="318" y="44" width="37" height="37" rx="1.5" fill="#636b6e" stroke="none"/>
<text x="141.3" y="71.3" font-family="Liberation Sans, Arial, sans-serif" font-weight="bold" font-size="32.5" fill="#fff" stroke="#fff" stroke-width="1.2" text-anchor="middle">1</text>
<rect x="131" y="66.4" width="7.5" height="6.2" fill="#636b6e" stroke="none"/><rect x="145.2" y="66.4" width="7" height="6.2" fill="#636b6e" stroke="none"/>
<text x="337.2" y="73.6" font-family="Liberation Sans, Arial, sans-serif" font-weight="bold" font-size="32.5" fill="#fff" stroke="#fff" stroke-width="1.2" text-anchor="middle">2</text>

</svg>
</body></html>
